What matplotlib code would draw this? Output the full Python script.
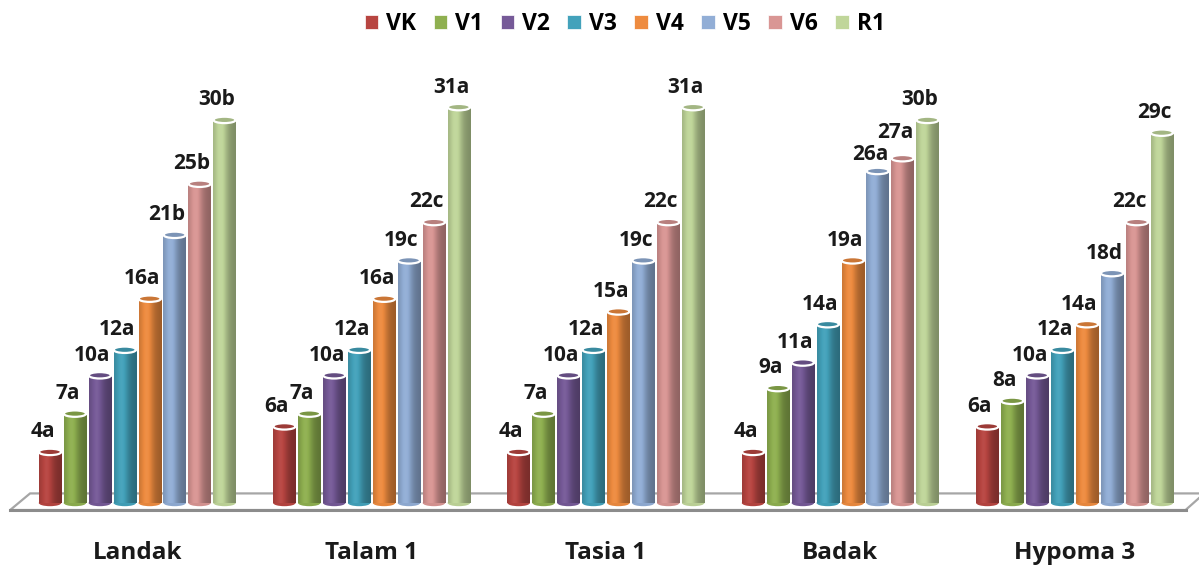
import numpy as np
import matplotlib
matplotlib.use("Agg")
import matplotlib.pyplot as plt
from matplotlib.patches import Ellipse, Polygon, Patch
from matplotlib.colors import to_rgb

plt.rcParams['font.family'] = ['Open Sans', 'DejaVu Sans']

groups = ['Landak', 'Talam 1', 'Tasia 1', 'Badak', 'Hypoma 3']
series = ['VK', 'V1', 'V2', 'V3', 'V4', 'V5', 'V6', 'R1']
colors = ['#B84541', '#8FB050', '#765A98', '#43A2BB',
          '#EE8B3F', '#92AED6', '#D99694', '#C0D69A']

landak = [4, 7, 10, 12, 16, 21, 25, 30]
talam1 = [6, 7, 10, 12, 16, 19, 22, 31]
tasia1 = [4, 7, 10, 12, 15, 19, 22, 31]
badak = [4, 9, 11, 14, 19, 26, 27, 30]
hypoma3 = [6, 8, 10, 12, 14, 18, 22, 29]
values = [landak, talam1, tasia1, badak, hypoma3]

letters_landak = ['a', 'a', 'a', 'a', 'a', 'b', 'b', 'b']
letters_talam1 = ['a', 'a', 'a', 'a', 'a', 'c', 'c', 'a']
letters_tasia1 = ['a', 'a', 'a', 'a', 'a', 'c', 'c', 'a']
letters_badak = ['a', 'a', 'a', 'a', 'a', 'a', 'a', 'b']
letters_hypoma3 = ['a', 'a', 'a', 'a', 'a', 'd', 'c', 'c']
letters = [letters_landak, letters_talam1, letters_tasia1,
           letters_badak, letters_hypoma3]

W, H = 1199, 565
fig = plt.figure(figsize=(W / 100, H / 100), dpi=100)
ax = fig.add_axes([0, 0, 1, 1])

group_step = 9.4
bw = 0.9
ell_h = 0.5
# labels that sit a bit higher / lower in the original (group, series)
label_nudge = {(3, 5): -0.25, (3, 6): 0.45}

# cylinder shading profile (left dark -> highlight -> right dark)
prof_x = np.linspace(0, 1, 60)
shade = 0.8 + 0.28 * np.exp(-((prof_x - 0.35) / 0.28) ** 2) - 0.14 * prof_x


def shaded(col):
    rgb = np.array(to_rgb(col))
    img = np.empty((1, len(shade), 3))
    for k, s in enumerate(shade):
        if s <= 1:
            img[0, k] = rgb * s
        else:
            img[0, k] = rgb + (1 - rgb) * (s - 1) * 1.2
    return np.clip(img, 0, 1)


# floor
floor = Polygon([(-1.6, -0.55), (45.55, -0.55), (46.3, 0.75), (-0.8, 0.75)],
                closed=True, facecolor='white', edgecolor='#A6A6A6', lw=1.6,
                zorder=1)
ax.add_patch(floor)
ax.plot([-1.6, 45.55], [-0.55, -0.55], color='#8C8C8C', lw=2.2, zorder=1)

for g, (vals, lets) in enumerate(zip(values, letters)):
    for i, v in enumerate(vals):
        xc = g * group_step + i
        x0, x1 = xc - bw / 2, xc + bw / 2
        img = shaded(colors[i])
        ax.add_patch(Ellipse((xc, 0), bw, ell_h, facecolor=img[0, 10],
                             edgecolor='none', zorder=2))
        ax.imshow(img, extent=(x0, x1, 0, v), aspect='auto', zorder=3,
                  interpolation='bilinear')
        top = np.array(to_rgb(colors[i])) * 0.85
        ax.add_patch(Ellipse((xc, v), bw, ell_h, facecolor=top,
                             edgecolor='white', lw=1.6, zorder=4))
        dy = label_nudge.get((g, i), 0)
        ax.text(xc - 0.3, v + 0.75 + dy, f'{v}{lets[i]}', ha='center',
                va='bottom', fontsize=15, fontweight='bold', color='#1a1a1a',
                zorder=5)
    ax.text(g * group_step + 3.5, -3.9, groups[g], ha='center', va='center',
            fontsize=17.5, fontweight='bold', color='#1a1a1a')

ax.set_xlim(-2.006, 46.09)
ax.set_ylim(-4.855, 39.39)
ax.axis('off')

handles = [Patch(facecolor=c, edgecolor='white', lw=0.5) for c in colors]
fig.legend(handles, series, loc='upper center', bbox_to_anchor=(0.521, 1.015),
           ncol=8, frameon=False, handlelength=0.6,
           handleheight=0.6, handletextpad=0.35, columnspacing=0.75,
           prop={'weight': 'bold', 'size': 16.5})

fig.savefig('out.png', dpi=100)
